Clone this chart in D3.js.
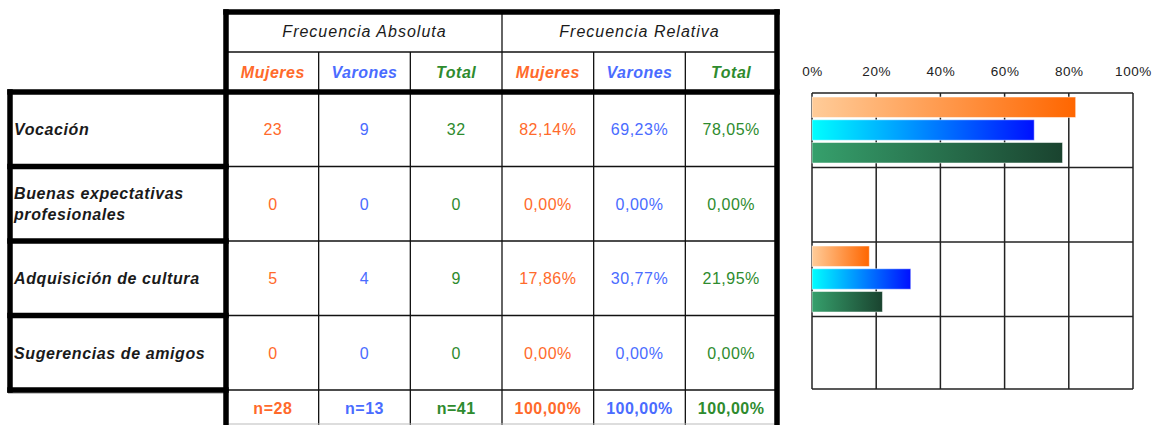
<!DOCTYPE html>
<html>
<head>
<meta charset="utf-8">
<script src="https://cdn.jsdelivr.net/npm/d3@7"></script>
<style>
  body { margin: 0; background: #fff; }
  text { font-family: "Liberation Sans", Arial, sans-serif; }
</style>
</head>
<body>
<div id="canvas"></div>
<script>
// data
const categories = ["Vocación", "Buenas expectativas\nprofesionales", "Adquisición de cultura", "Sugerencias de amigos"];
const groups = ["Frecuencia Absoluta", "Frecuencia Relativa"];
const columns = ["Mujeres", "Varones", "Total", "Mujeres", "Varones", "Total"];
const mujeres = [23, 0, 5, 0];
const varones = [9, 0, 4, 0];
const totales = [32, 0, 9, 0];
const relMujeres = [82.14, 0, 17.86, 0];
const relVarones = [69.23, 0, 30.77, 0];
const relTotal = [78.05, 0, 21.95, 0];
const totalsRow = ["n=28", "n=13", "n=41", "100,00%", "100,00%", "100,00%"];
const ticks = [0, 20, 40, 60, 80, 100];

const orange = "#ff6a2b", blue = "#4a6cff", green = "#2e8b2e";
const colColors = [orange, blue, green, orange, blue, green];
const fmt = v => v.toFixed(2).replace(".", ",") + "%";

const W = 1153, H = 425;
const svg = d3.select('#canvas').append('svg').attr('width', W).attr('height', H);

// scales
const y = d3.scaleBand().domain(d3.range(categories.length)).range([92, 390]);
const col = d3.scaleBand().domain(d3.range(columns.length)).range([227, 777]);
const x = d3.scaleLinear().domain([0, 100]).range([812, 1133]);
const sub = d3.scaleBand().domain([0, 1, 2]).range([5, 71]).paddingInner(0.1);

const rows = d3.range(categories.length);
const values = rows.map(i => [mujeres[i], varones[i], totales[i], fmt(relMujeres[i]), fmt(relVarones[i]), fmt(relTotal[i])]);

// ---- table lines ----
const thin = svg.append('g').attr('stroke', '#111').attr('stroke-width', 1.3);
// column separators
[1, 2, 4, 5].forEach(c => thin.append('line')
  .attr('x1', col(c)).attr('x2', col(c)).attr('y1', 52).attr('y2', H));
thin.append('line').attr('x1', col(3)).attr('x2', col(3)).attr('y1', 12).attr('y2', H);
thin.append('line').attr('x1', col(0)).attr('x2', 777).attr('y1', 52).attr('y2', 52);
rows.slice(1).concat([4]).forEach(i => {
  const yy = i < 4 ? y(i) : y.range()[1];
  thin.append('line').attr('x1', col(0)).attr('x2', 777).attr('y1', yy).attr('y2', yy);
});
svg.append('line').attr('x1', col(0)).attr('x2', 777).attr('y1', 424).attr('y2', 424)
  .attr('stroke', '#bbb').attr('stroke-width', 1);
svg.append('line').attr('x1', 8).attr('x2', 226).attr('y1', 393).attr('y2', 393)
  .attr('stroke', '#888').attr('stroke-width', 1);

const thick = svg.append('g').attr('stroke', '#000').attr('stroke-width', 5.5).attr('stroke-linecap', 'square');
thick.append('line').attr('x1', 226).attr('x2', 777).attr('y1', 12).attr('y2', 12);
thick.append('line').attr('x1', 226).attr('x2', 226).attr('y1', 12).attr('y2', H + 5);
thick.append('line').attr('x1', 777).attr('x2', 777).attr('y1', 12).attr('y2', H + 5);
thick.append('line').attr('x1', 10).attr('x2', 777).attr('y1', 92).attr('y2', 92);
thick.append('line').attr('x1', 10).attr('x2', 10).attr('y1', 92).attr('y2', 390);
rows.slice(1).concat([4]).forEach(i => {
  const yy = i < 4 ? y(i) : y.range()[1];
  thick.append('line').attr('x1', 10).attr('x2', 226).attr('y1', yy).attr('y2', yy);
});

// ---- table text ----
const txt = svg.append('g').attr('font-size', 16).attr('letter-spacing', 0.5);
groups.forEach((g, k) => txt.append('text')
  .attr('x', (col(k * 3) + col(k * 3 + 2) + col.bandwidth()) / 2).attr('y', 37)
  .attr('text-anchor', 'middle').attr('font-style', 'italic').attr('letter-spacing', 1)
  .attr('fill', '#1a1a1a').text(g));

txt.selectAll('.colhead').data(columns).join('text')
  .attr('x', (d, i) => col(i) + col.bandwidth() / 2).attr('y', 78)
  .attr('text-anchor', 'middle').attr('font-style', 'italic').attr('font-weight', 'bold')
  .attr('fill', (d, i) => colColors[i]).text(d => d);

rows.forEach(i => {
  const cy = y(i) + y.bandwidth() / 2;
  const lines = categories[i].split("\n");
  lines.forEach((l, j) => txt.append('text')
    .attr('x', 14).attr('y', cy + 6 + (j - (lines.length - 1) / 2) * 21)
    .attr('font-style', 'italic').attr('font-weight', 'bold').attr('letter-spacing', 0.6)
    .attr('fill', '#1a1a1a').text(l));
  values[i].forEach((v, c) => txt.append('text')
    .attr('x', col(c) + col.bandwidth() / 2).attr('y', cy + 6)
    .attr('text-anchor', 'middle').attr('fill', colColors[c]).text(v));
});

totalsRow.forEach((v, c) => txt.append('text')
  .attr('x', col(c) + col.bandwidth() / 2).attr('y', 414)
  .attr('text-anchor', 'middle').attr('font-weight', 'bold').attr('fill', colColors[c]).text(v));

// ---- bar chart ----
const defs = svg.append('defs');
const grads = [["gMuj", "#ffcc99", "#ff6600"], ["gVar", "#00ffff", "#0010ff"], ["gTot", "#36a06c", "#1a432f"]];
grads.forEach(([id, a, b]) => {
  const lg = defs.append('linearGradient').attr('id', id).attr('x1', 0).attr('x2', 1).attr('y1', 0).attr('y2', 0);
  lg.append('stop').attr('offset', 0).attr('stop-color', a);
  lg.append('stop').attr('offset', 1).attr('stop-color', b);
});

const grid = svg.append('g').attr('stroke', '#222').attr('stroke-width', 1.5).attr('fill', 'none');
ticks.forEach(t => grid.append('line').attr('x1', x(t)).attr('x2', x(t)).attr('y1', y.range()[0] + 1).attr('y2', y.range()[1] - 1));
rows.concat([4]).forEach(i => {
  const yy = i < 4 ? y(i) + 1 : y.range()[1] - 1;
  grid.append('line').attr('x1', x(0)).attr('x2', x(100)).attr('y1', yy).attr('y2', yy);
});

const series = [relMujeres, relVarones, relTotal];
series.forEach((s, k) => {
  svg.append('g').selectAll('rect').data(s.map((v, i) => ({ v, i }))).join('rect')
    .filter(d => d.v > 0)
    .attr('x', x(0))
    .attr('y', d => y(d.i) + sub(k))
    .attr('width', d => x(d.v) - x(0))
    .attr('height', sub.bandwidth())
    .attr('fill', `url(#${grads[k][0]})`)
    .attr('stroke', 'rgba(255,255,255,0.5)').attr('stroke-width', 1);
});

const axis = svg.append('g').attr('transform', 'translate(0,76)')
  .call(d3.axisTop(x).tickValues(ticks).tickSize(0).tickPadding(0).tickFormat(d => d + "%"));
axis.select('.domain').remove();
axis.selectAll('text').attr('font-size', 13.5).attr('letter-spacing', 0.6).attr('fill', '#222')
  .attr('font-family', '"Liberation Sans", Arial, sans-serif');
</script>
</body>
</html>
